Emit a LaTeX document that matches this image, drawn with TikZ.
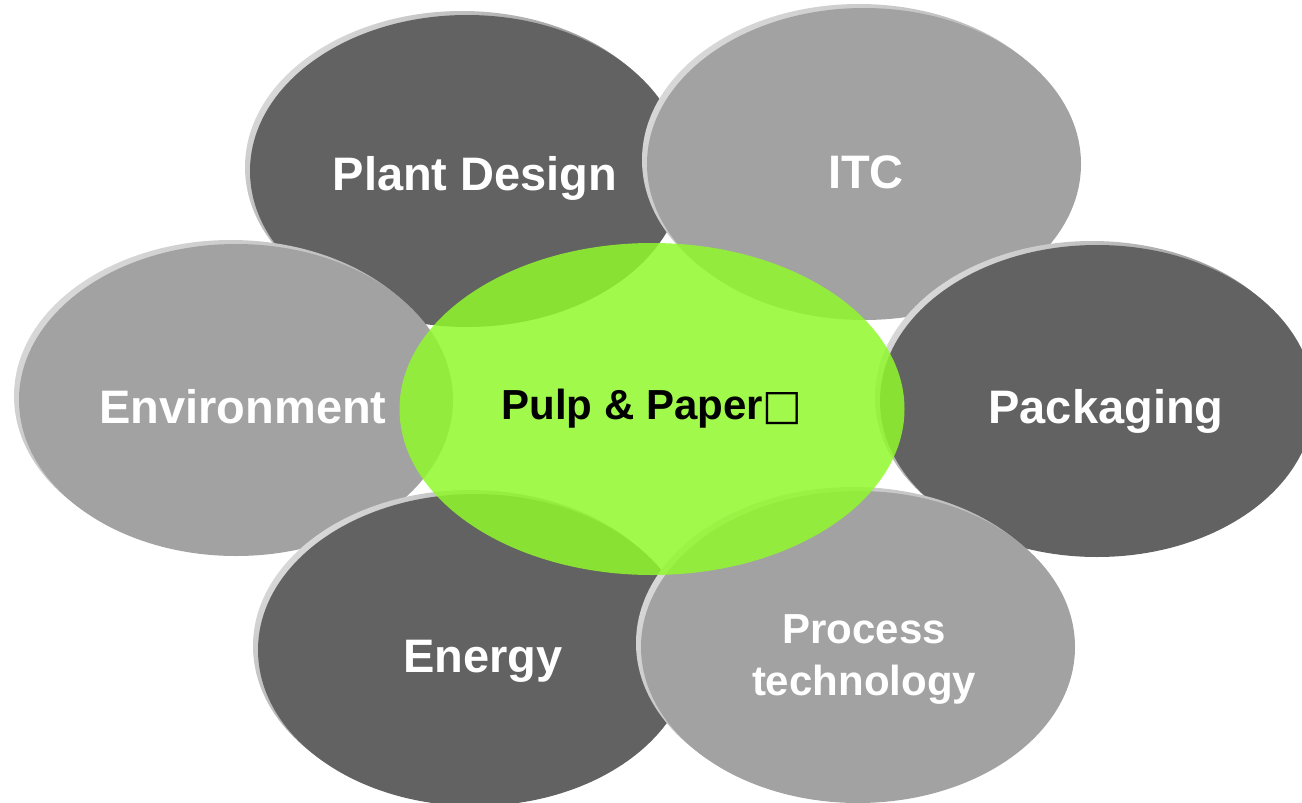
\documentclass[tikz,border=0pt]{standalone}
\usepackage{fontspec}
\setmainfont{Liberation Sans}
\newfontfamily\boxfont{DejaVu Sans}
\usepackage{tikz}
\usetikzlibrary{shapes.geometric,shadows}

\definecolor{petaldark}{RGB}{98,98,98}
\definecolor{petallight}{RGB}{162,162,162}
\definecolor{rimlight}{RGB}{215,215,215}
\definecolor{pulpgreen}{RGB}{145,248,45}

\begin{document}
\begin{tikzpicture}[x=1pt,y=-1pt,
    petal/.style={ellipse, minimum width=434pt, minimum height=312pt, inner sep=0pt, fill=#1,
      general shadow={shadow xshift=-5pt, shadow yshift=4pt, top color=rimlight, bottom color=#1, shading angle=45}},
    lbl/.style={text=white, font=\fontsize{47}{52}\selectfont\bfseries, anchor=base}]
    \useasboundingbox (0,0) rectangle (1302,803);
    % petals
    \node [petal=petaldark]  (plant)  at (467,171) {};
    \node [petal=petallight] (itc)    at (864,164) {};
    \node [petal=petaldark]  (pack)   at (1097,401) {};
    \node [petal=petallight] (env)    at (236,400) {};
    \node [petal=petaldark]  (energy) at (475,650) {};
    \node [petal=petallight] (proc)   at (858,647) {};
    % labels
    \node [lbl] (plant-l)  at (475,190) {Plant Design};
    \node [lbl] (itc-l)    at (866,188) {ITC};
    \node [lbl] (env-l)    at (243,423) {Environment};
    \node [lbl] (pack-l)   at (1106,423) {Packaging};
    \node [lbl] (energy-l) at (483,672) {Energy};
    \node [lbl, font=\fontsize{42}{52}\selectfont\bfseries, align=center] (proc-l) at (864,695) {Process\\technology};
    % centre
    \node [ellipse, minimum width=505pt, minimum height=332pt, inner sep=0pt, fill=pulpgreen,
      fill opacity=0.85, text opacity=1, font=\fontsize{42}{50}\selectfont\bfseries] (pulp) at (652,409)
      {Pulp \& Paper{\boxfont\mdseries □}};
\end{tikzpicture}
\end{document}
